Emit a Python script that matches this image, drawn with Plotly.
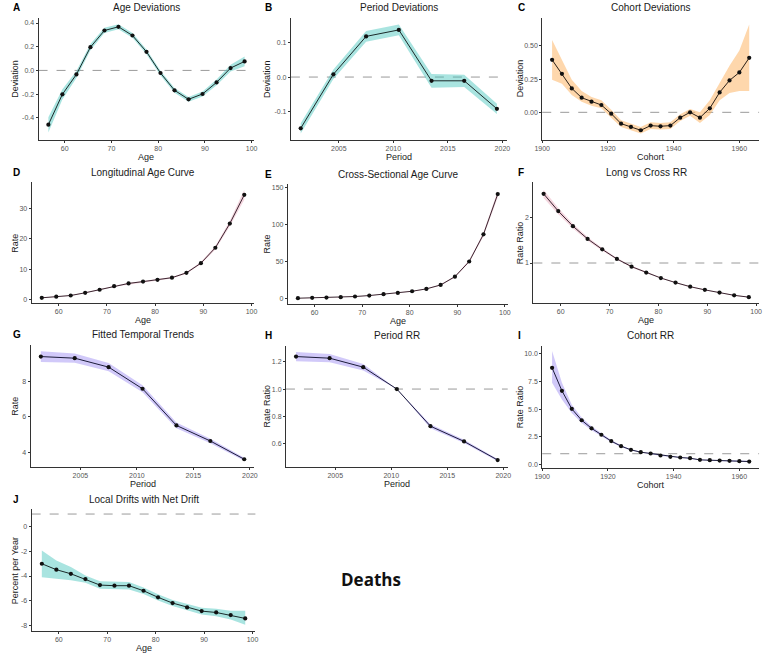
import plotly.graph_objects as go

W, H = 767, 655

# ---------------- data ----------------
ages = [56.5, 59.5, 62.5, 65.5, 68.5, 71.5, 74.5, 77.5, 80.5, 83.5, 86.5, 89.5, 92.5, 95.5, 98.5]
periods = [2001.5, 2004.5, 2007.5, 2010.5, 2013.5, 2016.5, 2019.5]
cohorts = [1903, 1906, 1909, 1912, 1915, 1918, 1921, 1924, 1927, 1930, 1933, 1936, 1939,
           1942, 1945, 1948, 1951, 1954, 1957, 1960, 1963]

age_dev = [-0.458, -0.202, -0.034, 0.196, 0.337, 0.368, 0.295, 0.157, -0.022, -0.168, -0.244, -0.199, -0.101, 0.020, 0.076]
age_dev_lo = [-0.525, -0.245, -0.065, 0.170, 0.315, 0.348, 0.275, 0.137, -0.042, -0.188, -0.264, -0.221, -0.125, -0.010, 0.035]
age_dev_hi = [-0.395, -0.160, -0.005, 0.222, 0.360, 0.390, 0.315, 0.177, -0.002, -0.148, -0.224, -0.177, -0.077, 0.048, 0.118]

per_dev = [-0.150, 0.008, 0.119, 0.138, -0.011, -0.011, -0.093]
per_dev_lo = [-0.165, -0.006, 0.103, 0.122, -0.031, -0.029, -0.108]
per_dev_hi = [-0.135, 0.022, 0.135, 0.154, 0.009, 0.007, -0.078]

coh_dev = [0.395, 0.29, 0.18, 0.11, 0.08, 0.055, -0.01, -0.085, -0.11, -0.135, -0.10, -0.105, -0.10,
           -0.04, 0.0, -0.04, 0.03, 0.15, 0.24, 0.30, 0.41]
coh_dev_lo = [0.245, 0.215, 0.13, 0.08, 0.05, 0.03, -0.04, -0.11, -0.135, -0.16, -0.125, -0.13, -0.125,
              -0.065, -0.025, -0.08, -0.02, 0.09, 0.145, 0.16, 0.16]
coh_dev_hi = [0.545, 0.40, 0.245, 0.16, 0.115, 0.09, 0.02, -0.06, -0.085, -0.11, -0.075, -0.08, -0.075,
              -0.015, 0.025, 0.0, 0.09, 0.22, 0.35, 0.465, 0.66]

long_age = [0.55, 0.9, 1.3, 2.2, 3.2, 4.4, 5.3, 5.9, 6.5, 7.2, 8.8, 12.0, 17.1, 25.1, 34.6]
long_age_lo = [0.45, 0.8, 1.2, 2.05, 3.05, 4.2, 5.1, 5.7, 6.3, 6.95, 8.5, 11.6, 16.5, 24.2, 33.0]
long_age_hi = [0.65, 1.0, 1.4, 2.35, 3.35, 4.6, 5.5, 6.1, 6.7, 7.45, 9.1, 12.4, 17.7, 26.0, 36.3]

cross_age = [0.4, 0.9, 1.3, 1.8, 2.7, 4.0, 5.8, 7.6, 9.8, 13.0, 18.3, 29.5, 50.0, 86.6, 141.0]
cross_age_lo = [0.35, 0.8, 1.2, 1.7, 2.55, 3.8, 5.55, 7.3, 9.4, 12.5, 17.6, 28.5, 48.5, 84.0, 136.5]
cross_age_hi = [0.45, 1.0, 1.4, 1.9, 2.85, 4.2, 6.05, 7.9, 10.2, 13.5, 19.0, 30.5, 51.5, 89.2, 145.5]

long_cross_rr = [2.52, 2.14, 1.81, 1.53, 1.30, 1.09, 0.92, 0.79, 0.67, 0.57, 0.48, 0.41, 0.35, 0.29, 0.25]
long_cross_lo = [2.43, 2.07, 1.76, 1.49, 1.27, 1.07, 0.90, 0.775, 0.66, 0.56, 0.47, 0.40, 0.34, 0.28, 0.24]
long_cross_hi = [2.61, 2.21, 1.86, 1.57, 1.33, 1.11, 0.94, 0.805, 0.68, 0.58, 0.49, 0.42, 0.36, 0.30, 0.26]

fitted = [9.37, 9.28, 8.78, 7.57, 5.52, 4.65, 3.63]
fitted_lo = [9.07, 9.02, 8.55, 7.37, 5.36, 4.53, 3.55]
fitted_hi = [9.67, 9.54, 9.01, 7.77, 5.68, 4.77, 3.71]

period_rr = [1.239, 1.227, 1.161, 1.0, 0.727, 0.615, 0.478]
period_rr_lo = [1.205, 1.197, 1.137, 1.0, 0.712, 0.603, 0.470]
period_rr_hi = [1.273, 1.257, 1.185, 1.0, 0.742, 0.627, 0.486]

cohort_rr = [8.7, 6.64, 5.02, 4.0, 3.28, 2.7, 2.13, 1.68, 1.35, 1.14, 1.02, 0.84, 0.72, 0.66, 0.60,
             0.45, 0.42, 0.39, 0.36, 0.33, 0.30]
cohort_rr_lo = [7.35, 5.85, 4.65, 3.75, 3.1, 2.57, 2.04, 1.61, 1.30, 1.10, 0.98, 0.80, 0.68, 0.62, 0.56,
                0.41, 0.38, 0.35, 0.32, 0.28, 0.24]
cohort_rr_hi = [10.2, 7.35, 5.4, 4.25, 3.46, 2.83, 2.22, 1.75, 1.40, 1.18, 1.06, 0.88, 0.76, 0.70, 0.64,
                0.49, 0.46, 0.43, 0.40, 0.38, 0.36]

local_drift = [-3.01, -3.49, -3.82, -4.25, -4.73, -4.78, -4.78, -5.19, -5.72, -6.18, -6.53, -6.83, -6.94, -7.15, -7.42]
local_drift_lo = [-4.09, -4.22, -4.35, -4.55, -5.03, -5.08, -5.08, -5.45, -5.97, -6.42, -6.78, -7.10, -7.25, -7.50, -7.93]
local_drift_hi = [-1.94, -2.74, -3.28, -3.95, -4.43, -4.48, -4.48, -4.93, -5.47, -5.94, -6.28, -6.56, -6.63, -6.80, -6.80]
net_drift_line = 1.0

# ---------------- styling ----------------
TEAL = "rgba(64,196,186,0.45)"
ORANGE = "rgba(253,176,90,0.50)"
PURPLE = "rgba(140,120,240,0.40)"
PINK = "rgba(220,120,150,0.30)"
FONT = "Liberation Sans, Arial, sans-serif"

fig = go.Figure()

def px2x(p):
    return p / W

def px2y(p):
    return 1 - p / H

panels = [
    dict(letter="A", title="Age Deviations", box=(31, 250, 17, 139), x=ages, y=age_dev, lo=age_dev_lo, hi=age_dev_hi,
         fill=TEAL, lc="#1b2a2a", xr=[54.4, 100.6], yr=[-0.584, 0.443], xt=[60, 70, 80, 90, 100],
         yt=[-0.4, -0.2, 0.0, 0.2, 0.4], fmt=".1f", xtitle="Age", ytitle="Deviation", hline=0.0),
    dict(letter="B", title="Period Deviations", box=(287, 506, 17, 139), x=periods, y=per_dev, lo=per_dev_lo, hi=per_dev_hi,
         fill=TEAL, lc="#1b2a2a", xr=[2000.6, 2020.4], yr=[-0.183, 0.173], xt=[2005, 2010, 2015, 2020],
         yt=[-0.1, 0.0, 0.1], fmt=".1f", xtitle="Period", ytitle="Deviation", hline=0.0),
    dict(letter="C", title="Cohort Deviations", box=(542, 762, 17, 139), x=cohorts, y=coh_dev, lo=coh_dev_lo, hi=coh_dev_hi,
         fill=ORANGE, lc="#2a2018", xr=[1900, 1966], yr=[-0.205, 0.71], xt=[1900, 1920, 1940, 1960],
         yt=[0.0, 0.25, 0.5], fmt=".2f", xtitle="Cohort", ytitle="Deviation", hline=0.0),
    dict(letter="D", title="Longitudinal Age Curve", box=(24, 250, 182, 303), x=ages, y=long_age, lo=long_age_lo, hi=long_age_hi,
         fill=PINK, lc="#3a2530", xr=[54.4, 100.6], yr=[-1.2, 38.7], xt=[60, 70, 80, 90, 100],
         yt=[0, 10, 20, 30], fmt="d", xtitle="Age", ytitle="Rate", hline=None),
    dict(letter="E", title="Cross-Sectional Age Curve", box=(284, 507, 184, 304), x=ages, y=cross_age, lo=cross_age_lo, hi=cross_age_hi,
         fill=PINK, lc="#3a2530", xr=[54.4, 100.6], yr=[-7.5, 154], xt=[60, 70, 80, 90, 100],
         yt=[0, 50, 100, 150], fmt="d", xtitle="Age", ytitle="Rate", hline=None),
    dict(letter="F", title="Long vs Cross RR", box=(533, 762, 182, 303), x=ages, y=long_cross_rr, lo=long_cross_lo, hi=long_cross_hi,
         fill=PINK, lc="#3a2530", xr=[54.4, 100.6], yr=[0.12, 2.77], xt=[60, 70, 80, 90, 100],
         yt=[1, 2], fmt="d", xtitle="Age", ytitle="Rate Ratio", hline=1.0),
    dict(letter="G", title="Fitted Temporal Trends", box=(23, 250, 345, 467), x=periods, y=fitted, lo=fitted_lo, hi=fitted_hi,
         fill=PURPLE, lc="#1c1c3a", xr=[2000.6, 2020.4], yr=[3.22, 10.02], xt=[2005, 2010, 2015, 2020],
         yt=[4, 6, 8], fmt="d", xtitle="Period", ytitle="Rate", hline=None),
    dict(letter="H", title="Period RR", box=(282, 507, 346, 467), x=periods, y=period_rr, lo=period_rr_lo, hi=period_rr_hi,
         fill=PURPLE, lc="#1c1c3a", xr=[2000.6, 2020.4], yr=[0.43, 1.317], xt=[2005, 2010, 2015, 2020],
         yt=[0.6, 0.8, 1.0, 1.2], fmt=".1f", xtitle="Period", ytitle="Rate Ratio", hline=1.0),
    dict(letter="I", title="Cohort RR", box=(542, 762, 346, 468), x=cohorts, y=cohort_rr, lo=cohort_rr_lo, hi=cohort_rr_hi,
         fill=PURPLE, lc="#1c1c3a", xr=[1900, 1966], yr=[-0.24, 10.66], xt=[1900, 1920, 1940, 1960],
         yt=[0, 2.5, 5, 7.5, 10], fmt=".1f", xtitle="Cohort", ytitle="Rate Ratio", hline=1.0),
    dict(letter="J", title="Local Drifts with Net Drift", box=(24, 251, 510, 632), x=ages, y=local_drift, lo=local_drift_lo, hi=local_drift_hi,
         fill=TEAL, lc="#1b2a2a", xr=[54.4, 100.6], yr=[-8.44, 1.37], xt=[60, 70, 80, 90, 100],
         yt=[-8, -6, -4, -2, 0], fmt="d", xtitle="Age", ytitle="Percent per Year", hline=net_drift_line),
]

layout = {}
annotations = []
shapes = []

for i, p in enumerate(panels, start=1):
    xa = "x" if i == 1 else f"x{i}"
    ya = "y" if i == 1 else f"y{i}"
    l, r, t, b = p["box"]
    xd = [px2x(l), px2x(r)]
    yd = [px2y(b), px2y(t)]
    axis_common = dict(showline=True, linecolor="#333333", linewidth=1, showgrid=False, zeroline=False,
                       ticks="outside", ticklen=2, tickwidth=1, tickcolor="#333333",
                       tickfont=dict(size=7, color="#555555", family=FONT))
    layout["xaxis" if i == 1 else f"xaxis{i}"] = dict(domain=xd, anchor=ya, range=p["xr"], tickvals=p["xt"],
                                                     **axis_common)
    yfmt = p["fmt"]
    ytext = [format(v, yfmt) if yfmt != "d" else str(int(v)) for v in p["yt"]]
    layout["yaxis" if i == 1 else f"yaxis{i}"] = dict(domain=yd, anchor=xa, range=p["yr"], tickvals=p["yt"],
                                                     ticktext=ytext, **axis_common)
    fig.add_trace(go.Scatter(x=list(p["x"]) + list(p["x"])[::-1], y=list(p["hi"]) + list(p["lo"])[::-1],
                             fill="toself", fillcolor=p["fill"], line=dict(width=0), mode="lines",
                             hoverinfo="skip", showlegend=False, xaxis=xa, yaxis=ya))
    if p["hline"] is not None:
        shapes.append(dict(type="line", xref=f"{xa} domain", yref=ya, x0=0, x1=1, y0=p["hline"], y1=p["hline"],
                           line=dict(color="#9a9a9a", width=1, dash="dash"), layer="below"))
    fig.add_trace(go.Scatter(x=p["x"], y=p["y"], mode="lines+markers",
                             line=dict(color=p["lc"], width=1),
                             marker=dict(color="#111111", size=4.2),
                             showlegend=False, xaxis=xa, yaxis=ya))
    cx = (l + r) / 2
    annotations.append(dict(text=p["title"], x=px2x(cx), y=px2y(t - 10), xref="paper", yref="paper",
                            showarrow=False, xanchor="center", yanchor="middle",
                            font=dict(size=10, color="#1a1a1a", family=FONT)))
    col_left = 0 if l < 200 else (256 if l < 450 else 512)
    annotations.append(dict(text=f"<b>{p['letter']}</b>", x=px2x(col_left + 3), y=px2y(t - 10), xref="paper",
                            yref="paper", showarrow=False, xanchor="left", yanchor="middle",
                            font=dict(size=10, color="#000000", family=FONT)))
    annotations.append(dict(text=p["xtitle"], x=px2x(cx), y=px2y(b + 17), xref="paper", yref="paper",
                            showarrow=False, xanchor="center", yanchor="middle",
                            font=dict(size=9, color="#1a1a1a", family=FONT)))
    annotations.append(dict(text=p["ytitle"], x=px2x(col_left + 7), y=px2y((t + b) / 2), xref="paper", yref="paper",
                            showarrow=False, xanchor="center", yanchor="middle", textangle=-90,
                            font=dict(size=9, color="#1a1a1a", family=FONT)))

annotations.append(dict(text="<b>Deaths</b>", x=px2x(368), y=px2y(580), xref="paper", yref="paper",
                        showarrow=False, xanchor="center", yanchor="middle",
                        font=dict(size=17, color="#111111", family="Open Sans, Noto Sans, sans-serif")))

fig.update_layout(width=W, height=H, margin=dict(l=0, r=0, t=0, b=0), paper_bgcolor="white",
                  plot_bgcolor="white", annotations=annotations, shapes=shapes, showlegend=False, **layout)

fig.write_html("out.html")
